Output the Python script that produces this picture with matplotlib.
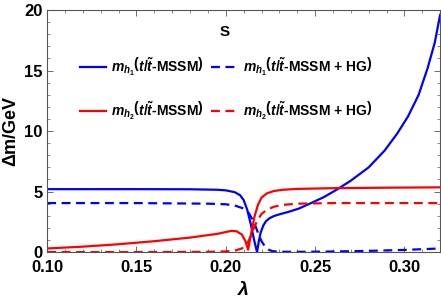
import matplotlib
matplotlib.use("Agg")
import matplotlib.pyplot as plt
from matplotlib.ticker import MultipleLocator

plt.rcParams['font.family'] = ['Liberation Sans', 'DejaVu Sans']
plt.rcParams['mathtext.fontset'] = 'custom'
plt.rcParams['mathtext.it'] = 'Liberation Sans:italic:bold'
plt.rcParams['mathtext.rm'] = 'Liberation Sans:bold'
plt.rcParams['mathtext.bf'] = 'Liberation Sans:bold'

# lambda values and mass differences
lam_h1 = [0.10, 0.15, 0.18, 0.195, 0.200, 0.205, 0.208, 0.210, 0.212, 0.214, 0.2160,
          0.2175, 0.2185, 0.2195, 0.2210, 0.2225, 0.2245, 0.2270, 0.230, 0.235, 0.241,
          0.247, 0.255, 0.262, 0.270, 0.280, 0.289, 0.296, 0.302, 0.308, 0.313,
          0.317, 0.320]
dm_h1 = [5.20, 5.20, 5.19, 5.15, 5.10, 4.95, 4.70, 4.30, 3.50, 2.30, 0.90,
         0.00, 0.90, 1.60, 2.20, 2.55, 2.80, 2.98, 3.12, 3.32, 3.60,
         4.00, 4.55, 5.15, 5.90, 7.00, 8.40, 9.80, 11.20, 13.00, 15.20,
         17.30, 19.60]

lam_h1hg = [0.10, 0.15, 0.19, 0.200, 0.205, 0.210, 0.213, 0.216, 0.218, 0.220,
            0.222, 0.224, 0.226, 0.230, 0.240, 0.260, 0.280, 0.300, 0.320]
dm_h1hg = [4.05, 4.05, 4.00, 3.95, 3.85, 3.60, 3.20, 2.40, 1.60, 0.90,
           0.45, 0.20, 0.08, 0.03, 0.02, 0.05, 0.10, 0.18, 0.30]

lam_h2 = [0.10, 0.12, 0.14, 0.16, 0.18, 0.195, 0.203, 0.206, 0.209, 0.211, 0.2125,
          0.2140, 0.2160, 0.2180, 0.220, 0.223, 0.227, 0.232, 0.240, 0.260, 0.290, 0.320]
dm_h2 = [0.30, 0.45, 0.65, 0.90, 1.20, 1.50, 1.75, 1.72, 1.45, 0.90, 0.20,
         1.40, 2.90, 3.90, 4.50, 4.85, 5.05, 5.15, 5.22, 5.28, 5.32, 5.35]

lam_h2hg = [0.10, 0.15, 0.19, 0.200, 0.205, 0.209, 0.212, 0.214, 0.216, 0.218,
            0.220, 0.223, 0.227, 0.232, 0.240, 0.260, 0.290, 0.320]
dm_h2hg = [0.00, 0.00, 0.02, 0.06, 0.12, 0.30, 0.70, 1.30, 2.10, 2.70,
           3.15, 3.50, 3.75, 3.90, 4.00, 4.05, 4.05, 4.05]

labels = [r'$m_{h_1}\left(t/\tilde{t}\text{-MSSM}\right)$',
          r'$m_{h_2}\left(t/\tilde{t}\text{-MSSM}\right)$',
          r'$m_{h_1}\left(t/\tilde{t}\text{-MSSM + HG}\right)$',
          r'$m_{h_2}\left(t/\tilde{t}\text{-MSSM + HG}\right)$']

fig = plt.figure(figsize=(4.41, 3.03), dpi=100)
ax = fig.add_axes([0.107, 0.168, 0.891, 0.799])

l1, = ax.plot(lam_h1, dm_h1, color='#0000ff', lw=1.6)
l2, = ax.plot(lam_h1hg, dm_h1hg, color='#0000ff', lw=1.6, ls=(0, (4, 2.5)))
l3, = ax.plot(lam_h2, dm_h2, color='#ff0000', lw=1.6)
l4, = ax.plot(lam_h2hg, dm_h2hg, color='#ff0000', lw=1.6, ls=(0, (4, 2.5)))

ax.set_xlim(0.10, 0.32)
ax.set_ylim(0, 20)
ax.xaxis.set_major_locator(MultipleLocator(0.05))
ax.xaxis.set_minor_locator(MultipleLocator(0.01))
ax.yaxis.set_major_locator(MultipleLocator(5))
ax.yaxis.set_minor_locator(MultipleLocator(1))
ax.tick_params(which='both', direction='in', top=True, right=True, labelsize=12)
ax.tick_params(which='major', length=4, width=0.6, color='#555555')
ax.tick_params(which='minor', length=2, width=0.5, color='#555555')
ax.tick_params(axis='x', pad=6)
for lab in ax.get_xticklabels() + ax.get_yticklabels():
    lab.set_fontweight('bold')
for sp in ax.spines.values():
    sp.set_color('#555555')
    sp.set_linewidth(0.8)

ax.set_xlabel(r'$\lambda$', fontsize=14, labelpad=4)
ax.set_ylabel(r'$\Delta$m/GeV', fontsize=13, fontweight='bold', labelpad=3)

ax.text(0.452, 0.909, 'S', transform=ax.transAxes, ha='center', va='center',
        fontsize=11, fontweight='bold')
leg = ax.legend([l1, l3, l2, l4], labels, ncol=2, loc='center',
                bbox_to_anchor=(0.455, 0.674), frameon=False, fontsize=10,
                handlelength=1.9, columnspacing=0.5,
                labelspacing=1.6, handletextpad=0.4)

fig.savefig('out.png', dpi=100)
